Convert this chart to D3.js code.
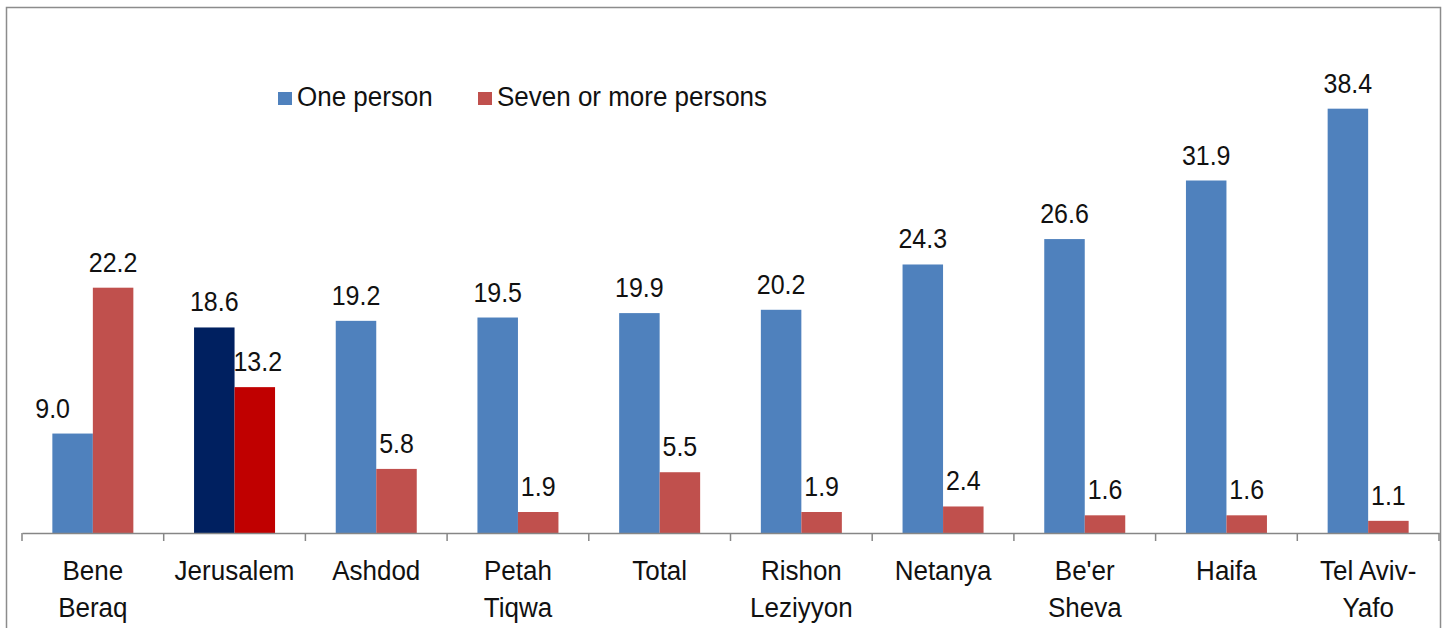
<!DOCTYPE html>
<html>
<head>
<meta charset="utf-8">
<script src="https://cdn.jsdelivr.net/npm/d3@7"></script>
<style>
  html, body { margin: 0; padding: 0; background: #fff; }
  svg { display: block; }
  text { font-family: Arial, "Liberation Sans", sans-serif; fill: #111; }
</style>
</head>
<body>
<svg id="chart" width="1448" height="628"></svg>
<script>
// ---- data ----
const categories = [
  ["Bene", "Beraq"], ["Jerusalem"], ["Ashdod"], ["Petah", "Tiqwa"], ["Total"],
  ["Rishon", "Leziyyon"], ["Netanya"], ["Be'er", "Sheva"], ["Haifa"], ["Tel Aviv-", "Yafo"]
];
const seriesNames = ["One person", "Seven or more persons"];
const onePerson = [9.0, 18.6, 19.2, 19.5, 19.9, 20.2, 24.3, 26.6, 31.9, 38.4];
const sevenPlus = [22.2, 13.2, 5.8, 1.9, 5.5, 1.9, 2.4, 1.6, 1.6, 1.1];
const highlightCategory = "Jerusalem";

// ---- styles ----
const colors = ["#4F81BD", "#C0504D"];
const highlightColors = ["#002060", "#C00000"];
const sy = 1.07; // vertical text stretch seen in the reference

const svg = d3.select("#chart");

// outer frame (bottom edge falls outside the picture)
svg.append("rect")
  .attr("x", 6.5).attr("y", 7.5)
  .attr("width", 1434).attr("height", 640)
  .attr("fill", "none").attr("stroke", "#8c8c8c").attr("stroke-width", 1.5);

const catKeys = categories.map(c => c.join(" "));
const x = d3.scaleBand().domain(catKeys).range([22, 1439]).paddingInner(0).paddingOuter(0);
const bw = x.bandwidth();
const barW = 40.5;
const x1 = d3.scaleBand().domain(seriesNames).range([bw / 2 - barW, bw / 2 + barW]);
const y = d3.scaleLinear().domain([0, 40]).range([533, 91]);

const rows = catKeys.map((k, i) => ({ key: k, i, values: [onePerson[i], sevenPlus[i]] }));

const g = svg.append("g");
const groups = g.selectAll("g.cat").data(rows).join("g")
  .attr("class", "cat")
  .attr("transform", d => `translate(${x(d.key)},0)`);

const cells = d => d.values.map((v, j) => ({ v, j, key: d.key, i: d.i }));

groups.selectAll("rect").data(cells).join("rect")
  .attr("x", d => x1(seriesNames[d.j]))
  .attr("width", x1.bandwidth())
  .attr("y", d => y(d.v))
  .attr("height", d => y(0) - y(d.v))
  .attr("fill", d => d.key === highlightCategory ? highlightColors[d.j] : colors[d.j]);

groups.selectAll("g.val").data(cells).join("g")
  .attr("class", "val")
  .attr("transform", d => {
    const cx = x1(seriesNames[d.j]) + x1.bandwidth() / 2 + (d.i === 0 && d.j === 0 ? -20 : 0) + (d.i === 1 && d.j === 1 ? 3 : 0);
    return `translate(${cx},${y(d.v) - 16}) scale(1,${sy})`;
  })
  .append("text")
  .attr("text-anchor", "middle")
  .attr("font-size", 25)
  .text(d => d3.format(".1f")(d.v));

// x axis
const axis = d3.axisBottom(x).tickSize(0).tickFormat("");
const ax = svg.append("g").attr("transform", `translate(0,${y(0)})`).call(axis);
ax.select(".domain").attr("stroke", "#868686").attr("stroke-width", 1.5);
const bounds = catKeys.map(k => x(k)).concat([x.range()[1]]);
ax.selectAll("line.bt").data(bounds).join("line")
  .attr("class", "bt")
  .attr("x1", d => d).attr("x2", d => d)
  .attr("y1", 0).attr("y2", 8)
  .attr("stroke", "#868686").attr("stroke-width", 1.5);

// category labels
const lab = svg.append("g").selectAll("g.cl").data(categories).join("g")
  .attr("class", "cl")
  .attr("transform", (d, i) => `translate(${x(catKeys[i]) + bw / 2},580) scale(1,${sy})`)
  .append("text")
  .attr("text-anchor", "middle")
  .attr("font-size", 26);
lab.selectAll("tspan").data(d => d).join("tspan")
  .attr("x", 0)
  .attr("y", (d, i) => i * 37 / sy)
  .text(d => d);

// legend
const legendX = [278, 478];
const leg = svg.append("g").selectAll("g").data(seriesNames).join("g")
  .attr("transform", (d, i) => `translate(${legendX[i]},92)`);
leg.append("rect").attr("width", 14).attr("height", 13).attr("fill", (d, i) => colors[i]);
leg.append("g").attr("transform", `translate(19,14) scale(1,${sy})`)
  .append("text").attr("font-size", 26).text(d => d);
</script>
</body>
</html>
